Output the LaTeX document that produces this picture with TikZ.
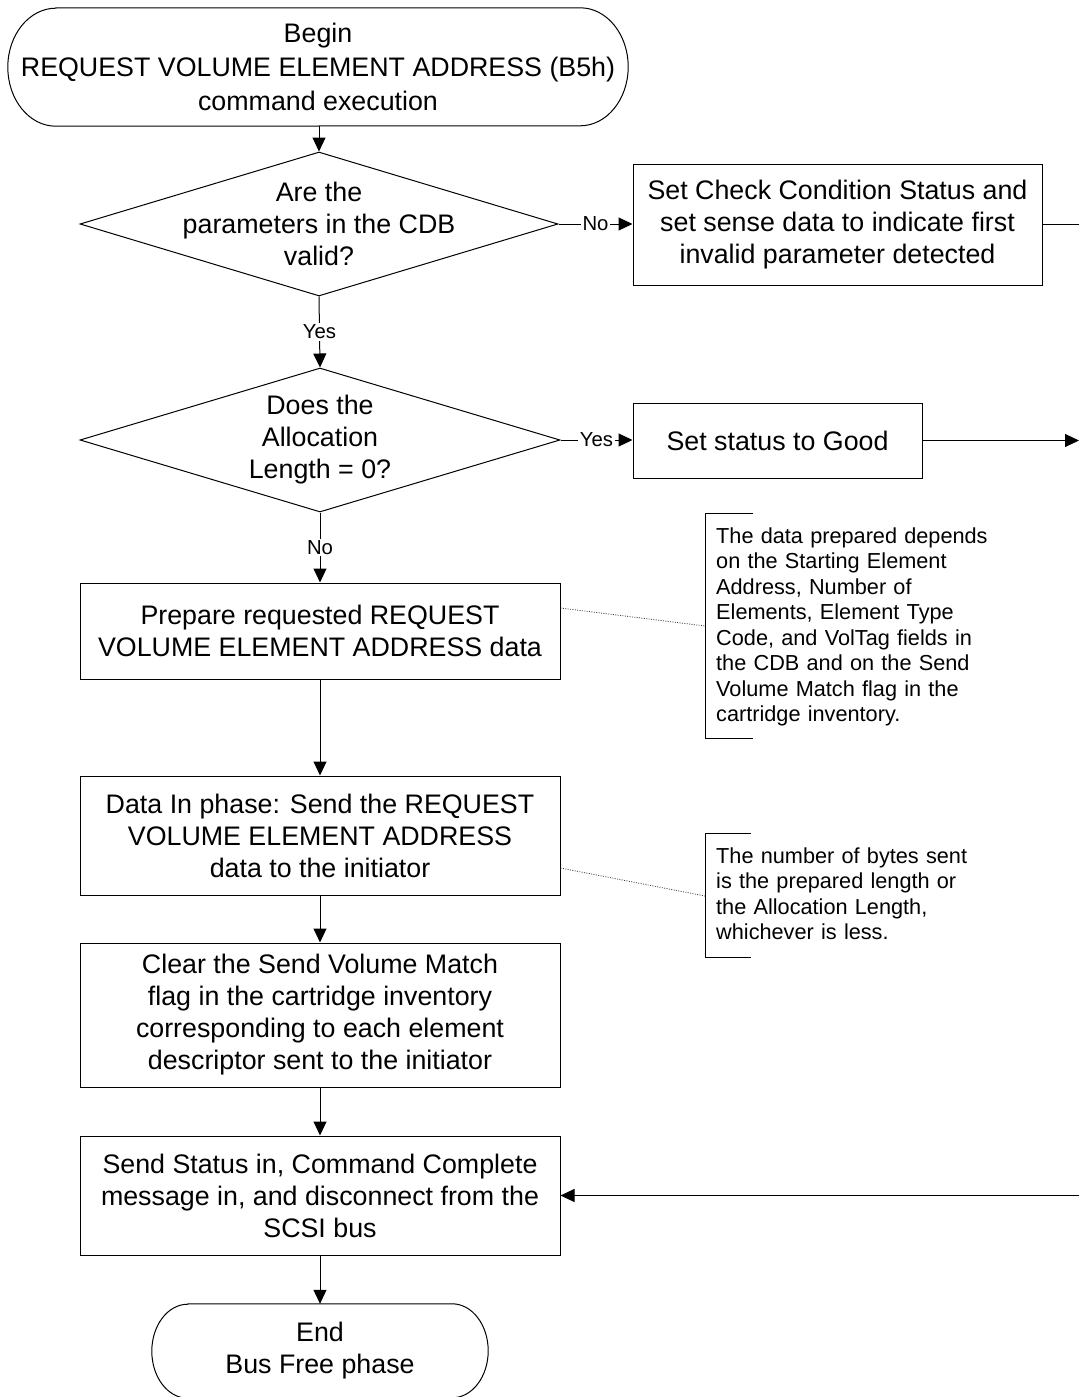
\documentclass[tikz,border=0pt]{standalone}
\usepackage{fontspec}
\setmainfont{Liberation Sans}
\usetikzlibrary{shapes.geometric,arrows.meta}

\begin{document}
\begin{tikzpicture}[x=1pt,y=-1pt,
  every node/.style={font=\fontsize{26.8}{32}\selectfont},
  procbox/.style={rectangle, draw=black, line width=1pt, align=center, inner sep=0pt},
  termbox/.style={rectangle, draw=none, align=center, inner sep=0pt},
  outline/.style={line width=1pt, draw=black},
  decision/.style={diamond, draw=black, line width=1pt, inner sep=0pt},
  dtext/.style={align=center, inner sep=0pt},
  conn/.style={line width=1pt, -{Triangle[length=14pt,width=13pt]}},
  plainline/.style={line width=1pt},
  lbl/.style={font=\fontsize{20.3}{24}\selectfont, fill=white, inner sep=1.5pt},
  note/.style={font=\fontsize{21.7}{25.5}\selectfont, align=left, anchor=base west,
               inner sep=0pt, text width=300pt},
  bracket/.style={line width=1pt},
  leader/.style={line width=0.8pt, draw=black!75, dash pattern=on 1pt off 1.4pt}
]
\useasboundingbox (0,0) rectangle (1079,1397);

% ---- start terminal ----
\node[termbox, minimum width=620pt, minimum height=118pt,
      font=\fontsize{26.8}{34}\selectfont] (start) at (318,67)
  {Begin\\REQUEST VOLUME ELEMENT ADDRESS (B5h)\\command execution};
\draw[outline] ([xshift=48pt]start.north west) -- ([xshift=-48pt]start.north east)
  arc[start angle=90, end angle=-90, x radius=48pt, y radius=59pt]
  -- ([xshift=48pt]start.south west)
  arc[start angle=270, end angle=90, x radius=48pt, y radius=59pt] -- cycle;

% ---- decisions ----
\node[decision, minimum width=478pt, minimum height=144pt] (d1) at (319,224) {};
\node[dtext] (d1t) at (d1.center) {Are the\\parameters in the CDB\\valid?};
\node[decision, minimum width=480pt, minimum height=144pt] (d2) at (320,440) {};
\node[dtext] (d2t) at (d2.center) {Does the\\Allocation\\Length = 0?};

% ---- process boxes ----
\node[procbox, minimum width=409pt, minimum height=121pt] (chk) at (837.5,224.5)
  {Set Check Condition Status and\\set sense data to indicate first\\invalid parameter detected};
\node[procbox, minimum width=289pt, minimum height=75pt] (good) at (777.5,440.5)
  {Set status to Good};
\node[procbox, minimum width=480pt, minimum height=96pt] (prep) at (320,631)
  {Prepare requested REQUEST\\VOLUME ELEMENT ADDRESS data};
\node[procbox, minimum width=480pt, minimum height=119pt] (datain) at (320,835.5)
  {Data In phase: Send the REQUEST\\VOLUME ELEMENT ADDRESS\\data to the initiator};
\node[procbox, minimum width=480pt, minimum height=144pt] (clear) at (320,1015)
  {Clear the Send Volume Match\\flag in the cartridge inventory\\corresponding to each element\\descriptor sent to the initiator};
\node[procbox, minimum width=480pt, minimum height=119pt] (send) at (320,1195.5)
  {Send Status in, Command Complete\\message in, and disconnect from the\\SCSI bus};

% ---- end terminal ----
\node[termbox, minimum width=336pt, minimum height=94pt] (end) at (320,1351)
  {End\\Bus Free phase};
\draw[outline] ([xshift=36pt]end.north west) -- ([xshift=-36pt]end.north east)
  arc[start angle=90, end angle=-90, x radius=36pt, y radius=47pt]
  -- ([xshift=36pt]end.south west)
  arc[start angle=270, end angle=90, x radius=36pt, y radius=47pt] -- cycle;

% ---- off-page ends on the right ----
\coordinate (chkout) at (1079,224.5);
\coordinate (goodout) at (1079,440.5);
\coordinate (sendin) at (1079,1195.5);

% ---- connectors ----
\draw[conn] (start.south -| d1.north) -- (d1.north);
\draw[conn] (d1.east) -- (d1.east -| chk.west) node[lbl, midway] (no1) {No};
\draw[conn] (d1.south) -- (d2.north) node[lbl, midway] (yes1) {Yes};
\draw[conn] (d2.east) -- (d2.east -| good.west) node[lbl, midway] (yes2) {Yes};
\draw[conn] (d2.south) -- (prep.north) node[lbl, midway] (no2) {No};
\draw[conn] (prep.south) -- (datain.north);
\draw[conn] (datain.south) -- (clear.north);
\draw[conn] (clear.south) -- (send.north);
\draw[conn] (send.south) -- (end.north);
\draw[plainline] (chk.east) -- (chkout);
\draw[conn] (good.east) -- (goodout);
\draw[conn] (sendin) -- (sendin -| send.east);

% ---- annotations ----
\coordinate (b1a) at (753,513);
\coordinate (b1b) at (705,513);
\coordinate (b1c) at (705,738);
\coordinate (b1d) at (753,738);
\coordinate (b1lead) at (705,626);
\draw[bracket] (b1a) -- (b1b) -- (b1c) -- (b1d);
\node[note] (note1) at (716,543)
  {The data prepared depends\\on the Starting Element\\Address, Number of\\Elements, Element Type\\Code, and VolTag fields in\\the CDB and on the Send\\Volume Match flag in the\\cartridge inventory.};
\draw[leader] ([yshift=23pt]prep.east) -- (b1lead);

\coordinate (b2a) at (751,833);
\coordinate (b2b) at (705,833);
\coordinate (b2c) at (705,957);
\coordinate (b2d) at (751,957);
\coordinate (b2lead) at (705,896);
\draw[bracket] (b2a) -- (b2b) -- (b2c) -- (b2d);
\node[note] (note2) at (716,863)
  {The number of bytes sent\\is the prepared length or\\the Allocation Length,\\whichever is less.};
\draw[leader] ([yshift=-32.5pt]datain.east) -- (b2lead);

\end{tikzpicture}
\end{document}
